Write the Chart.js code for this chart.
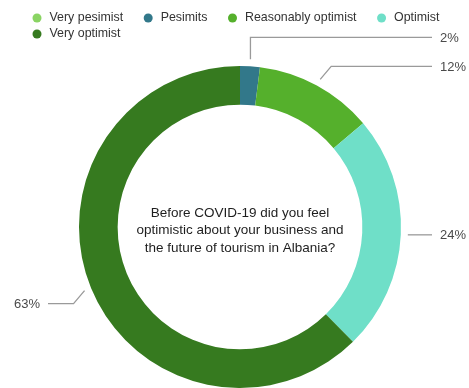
<!DOCTYPE html>
<html lang="en">
<head>
<meta charset="UTF-8">
<title>Optimism before COVID-19</title>
<script src="https://cdn.jsdelivr.net/npm/chart.js"></script>
<style>
  body { margin: 0; background: #fff; }
  #chartContainer { position: relative; width: 469px; height: 388px; }
</style>
</head>
<body>
<div id="chartContainer"><canvas id="myChart"></canvas></div>
<script>
const categories = ['Very pesimist', 'Pesimits', 'Reasonably optimist', 'Optimist', 'Very optimist'];
const shares = [0, 2, 12, 24, 63];
const sliceColors = ['#8ad463', '#32788a', '#55b02c', '#6fdfc8', '#367a1f'];
const question = ['Before COVID-19 did you feel', 'optimistic about your business and', 'the future of tourism in Albania?'];

const FONT = "'Liberation Sans', Arial, sans-serif";

// legend: round dot + name, wrapping onto a new row when full
const dotLegend = {
    id: 'dotLegend',
    afterDraw(chart) {
        const ctx = chart.ctx;
        ctx.save();
        ctx.font = '12.4px ' + FONT;
        ctx.textBaseline = 'middle';
        let x = 32.5, y = 18;
        categories.forEach((name, i) => {
            const w = 17 + ctx.measureText(name).width;
            if (x + w > chart.width - 10) { x = 32.5; y += 16; }
            ctx.fillStyle = sliceColors[i];
            ctx.beginPath();
            ctx.arc(x + 4.5, y, 4.5, 0, Math.PI * 2);
            ctx.fill();
            ctx.fillStyle = '#333';
            ctx.fillText(name, x + 17, y);
            x += w + 20.5;
        });
        ctx.restore();
    }
};

// question written in the hole of the doughnut
const centerText = {
    id: 'centerText',
    afterDraw(chart) {
        const ctx = chart.ctx;
        const arc = chart.getDatasetMeta(0).data[0];
        ctx.save();
        ctx.font = '13.5px ' + FONT;
        ctx.fillStyle = '#1e1e1e';
        ctx.textAlign = 'center';
        ctx.textBaseline = 'middle';
        question.forEach((line, i) => {
            ctx.fillText(line, arc.x, arc.y - 14 + i * 17.5);
        });
        ctx.restore();
    }
};

// percentage labels with leader lines outside the ring
const callouts = {
    id: 'callouts',
    afterDatasetsDraw(chart) {
        const ctx = chart.ctx;
        const arcs = chart.getDatasetMeta(0).data;
        const right = [], left = [];
        arcs.forEach((arc, i) => {
            if (!shares[i]) return;
            const p = arc.getProps(['x', 'y', 'startAngle', 'endAngle', 'outerRadius'], true);
            const mid = (p.startAngle + p.endAngle) / 2;
            const sx = p.x + Math.cos(mid) * (p.outerRadius + 7);
            const sy = p.y + Math.sin(mid) * (p.outerRadius + 7);
            const side = Math.cos(mid) >= 0 ? 1 : -1;
            const dy = Math.abs(Math.sin(mid)) > 0.2 ? Math.sign(Math.sin(mid)) * 13 : 0;
            const item = { sx, sy, ex: sx + side * 11, ey: sy + dy, text: shares[i] + '%' };
            (side > 0 ? right : left).push(item);
        });

        // labels on the right that would overlap get lifted, line goes straight up
        right.sort((a, b) => b.ey - a.ey);
        let prev = Infinity;
        right.forEach(it => {
            if (it.ey > prev - 29) { it.ey = prev - 29; it.ex = it.sx; }
            prev = it.ey;
        });

        ctx.save();
        ctx.strokeStyle = '#9a9a9a';
        ctx.lineWidth = 1.3;
        ctx.font = '13px ' + FONT;
        ctx.fillStyle = '#4a4a4a';
        ctx.textBaseline = 'middle';
        const draw = (it, endX, textX, align) => {
            ctx.beginPath();
            ctx.moveTo(it.sx, it.sy);
            ctx.lineTo(it.ex, it.ey);
            ctx.lineTo(endX, it.ey);
            ctx.stroke();
            ctx.textAlign = align;
            ctx.fillText(it.text, textX, it.ey + 1);
        };
        right.forEach(it => draw(it, 432, 440, 'left'));
        left.forEach(it => draw(it, 48, 40, 'right'));
        ctx.restore();
    }
};

const ctx = document.getElementById('myChart').getContext('2d');
const myChart = new Chart(ctx, {
    type: 'doughnut',
    data: {
        labels: categories,
        datasets: [{
            data: shares,
            backgroundColor: sliceColors,
            borderWidth: 0
        }]
    },
    options: {
        responsive: true,
        maintainAspectRatio: false,
        animation: false,
        cutout: '76%',
        layout: { padding: { top: 66, left: 27, right: 16, bottom: 0 } },
        plugins: {
            legend: { display: false },
            tooltip: { enabled: false }
        }
    },
    plugins: [dotLegend, centerText, callouts]
});
</script>
</body>
</html>
